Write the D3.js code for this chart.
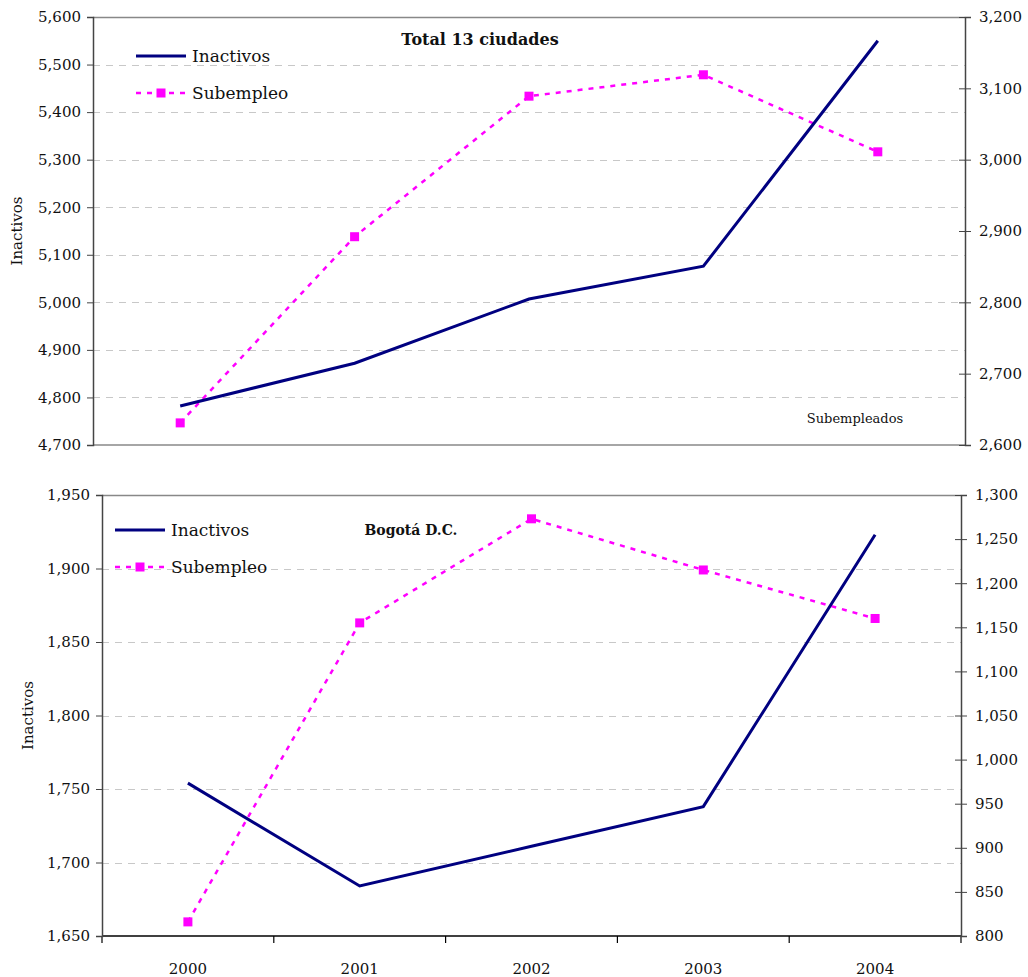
<!DOCTYPE html>
<html lang="es">
<head>
<meta charset="UTF-8" />
<title>Inactivos y Subempleo</title>
<script src="https://cdn.jsdelivr.net/npm/d3@7"></script>
<style>
  body { margin: 0; background: #fff; }
  svg text { font-family: "DejaVu Serif", "Liberation Serif", serif; fill: #111; }
  .grid line { stroke: #c8c8c8; stroke-dasharray: 7,6; stroke-width: 1; }
</style>
</head>
<body>
<script>
// datos
var years = ["2000", "2001", "2002", "2003", "2004"];

var totalInactivos = [4782, 4872, 5007, 5076, 5550];
var totalSubempleo = [2631, 2892, 3089, 3119, 3011];

var bogotaInactivos = [1754, 1684, 1711, 1738, 1923];
var bogotaSubempleo = [816, 1155, 1273, 1215, 1160];

var totalLeftTicks = [4700, 4800, 4900, 5000, 5100, 5200, 5300, 5400, 5500, 5600];
var totalRightTicks = [2600, 2700, 2800, 2900, 3000, 3100, 3200];
var bogotaLeftTicks = [1650, 1700, 1750, 1800, 1850, 1900, 1950];
var bogotaRightTicks = [800, 850, 900, 950, 1000, 1050, 1100, 1150, 1200, 1250, 1300];

var w = 1028, h = 977;
var fmt = d3.format(",");

var svg = d3.select("body").append("svg")
  .attr("width", w)
  .attr("height", h);

function drawPanel(opt) {
  var x = d3.scaleBand().domain(years).range([opt.left, opt.right]);
  var yL = d3.scaleLinear().domain(d3.extent(opt.leftTicks)).range([opt.bottom, opt.top]);
  var yR = d3.scaleLinear().domain(d3.extent(opt.rightTicks)).range([opt.bottom, opt.top]);
  var cx = function(d, i) { return x(years[i]) + x.bandwidth() / 2; };

  var g = svg.append("g");

  // lineas de cuadricula
  g.append("g").attr("class", "grid")
    .selectAll("line")
    .data(opt.leftTicks.slice(1, -1))
    .join("line")
    .attr("x1", opt.left).attr("x2", opt.right)
    .attr("y1", function(d) { return Math.round(yL(d)) + 0.5; })
    .attr("y2", function(d) { return Math.round(yL(d)) + 0.5; });

  // borde superior
  g.append("line")
    .attr("x1", opt.left).attr("x2", opt.right)
    .attr("y1", opt.top + 0.5).attr("y2", opt.top + 0.5)
    .attr("stroke", "#888").attr("stroke-width", 1.5);

  // eje x
  var xAxis = g.append("g").attr("transform", "translate(0," + opt.bottom + ")");
  xAxis.append("line")
    .attr("x1", opt.left).attr("x2", opt.right)
    .attr("stroke", opt.showX ? "#000" : "#888").attr("stroke-width", 1.5);
  if (opt.showX) {
    var bounds = years.map(function(d) { return x(d); }).concat([opt.right]);
    xAxis.selectAll(".xt").data(bounds).join("line")
      .attr("x1", function(d) { return d; }).attr("x2", function(d) { return d; })
      .attr("y1", 0).attr("y2", 7)
      .attr("stroke", "#000").attr("stroke-width", 1.2);
    xAxis.selectAll(".xl").data(years).join("text")
      .attr("x", function(d) { return x(d) + x.bandwidth() / 2; })
      .attr("y", 38)
      .attr("text-anchor", "middle")
      .style("font-size", "15px")
      .text(function(d) { return d; });
  }

  // eje izquierdo
  var leftAxis = d3.axisLeft(yL).tickValues(opt.leftTicks).tickFormat(fmt).tickSize(6).tickPadding(6);
  var la = g.append("g").attr("transform", "translate(" + opt.left + ",0)").call(leftAxis);
  la.select(".domain").attr("stroke", "#444").attr("stroke-width", 1.5);
  la.selectAll(".tick line").attr("stroke", "#444");
  la.selectAll(".tick text").style("font-size", "15px").style("font-family", "DejaVu Serif");

  // eje derecho
  var rightAxis = d3.axisRight(yR).tickValues(opt.rightTicks).tickFormat(fmt).tickSize(6).tickPadding(8);
  var ra = g.append("g").attr("transform", "translate(" + opt.right + ",0)").call(rightAxis);
  ra.select(".domain").attr("stroke", "#444").attr("stroke-width", 1.5);
  ra.selectAll(".tick line").attr("stroke", "#444").attr("x1", -6);
  ra.selectAll(".tick text").style("font-size", "15px").style("font-family", "DejaVu Serif");

  // titulo del eje izquierdo
  g.append("text")
    .attr("transform", "translate(" + opt.yTitleX + "," + ((opt.top + opt.bottom) / 2) + ") rotate(-90)")
    .attr("text-anchor", "middle")
    .style("font-size", "15px")
    .text("Inactivos");

  // series
  var line = d3.line();
  g.append("path")
    .datum(opt.subempleo.map(function(d, i) { return [cx(d, i), yR(d)]; }))
    .attr("fill", "none")
    .attr("stroke", "#ff00ff")
    .attr("stroke-width", 2.5)
    .attr("stroke-dasharray", "5,6")
    .attr("d", line);

  g.append("path")
    .datum(opt.inactivos.map(function(d, i) { return [cx(d, i), yL(d)]; }))
    .attr("fill", "none")
    .attr("stroke", "#000080")
    .attr("stroke-width", 3)
    .attr("d", line);

  g.selectAll(".mk").data(opt.subempleo).join("rect")
    .attr("x", function(d, i) { return cx(d, i) - 4.5; })
    .attr("y", function(d) { return yR(d) - 4.5; })
    .attr("width", 9).attr("height", 9)
    .attr("fill", "#ff00ff");

  // leyenda
  var lg = g.append("g").attr("transform", "translate(" + opt.legendX + "," + opt.legendY + ")");
  lg.append("line").attr("x1", 0).attr("x2", 50).attr("y1", 0).attr("y2", 0)
    .attr("stroke", "#000080").attr("stroke-width", 3);
  lg.append("text").attr("x", 56).attr("y", 6).style("font-size", "17px").text("Inactivos");
  lg.append("line").attr("x1", 0).attr("x2", 50).attr("y1", 37).attr("y2", 37)
    .attr("stroke", "#ff00ff").attr("stroke-width", 2.5).attr("stroke-dasharray", "5,6");
  lg.append("rect").attr("x", 20.5).attr("y", 32.5).attr("width", 9).attr("height", 9).attr("fill", "#ff00ff");
  lg.append("text").attr("x", 56).attr("y", 43).style("font-size", "17px").text("Subempleo");

  // titulo del panel
  g.append("text")
    .attr("x", opt.titleX).attr("y", opt.titleY)
    .attr("text-anchor", "middle")
    .style("font-size", opt.titleSize)
    .style("font-weight", "bold")
    .text(opt.title);
}

drawPanel({
  left: 93, right: 965, top: 17, bottom: 445,
  leftTicks: totalLeftTicks, rightTicks: totalRightTicks,
  inactivos: totalInactivos, subempleo: totalSubempleo,
  showX: false, yTitleX: 22,
  legendX: 136, legendY: 56,
  title: "Total 13 ciudades", titleX: 480, titleY: 45, titleSize: "16px"
});

drawPanel({
  left: 102, right: 961, top: 495, bottom: 936,
  leftTicks: bogotaLeftTicks, rightTicks: bogotaRightTicks,
  inactivos: bogotaInactivos, subempleo: bogotaSubempleo,
  showX: true, yTitleX: 33,
  legendX: 115, legendY: 530,
  title: "Bogotá D.C.", titleX: 411, titleY: 535, titleSize: "14px"
});

// etiqueta del eje derecho (panel superior)
svg.append("text")
  .attr("x", 855).attr("y", 423)
  .attr("text-anchor", "middle")
  .style("font-size", "13px")
  .text("Subempleados");
</script>
</body>
</html>
